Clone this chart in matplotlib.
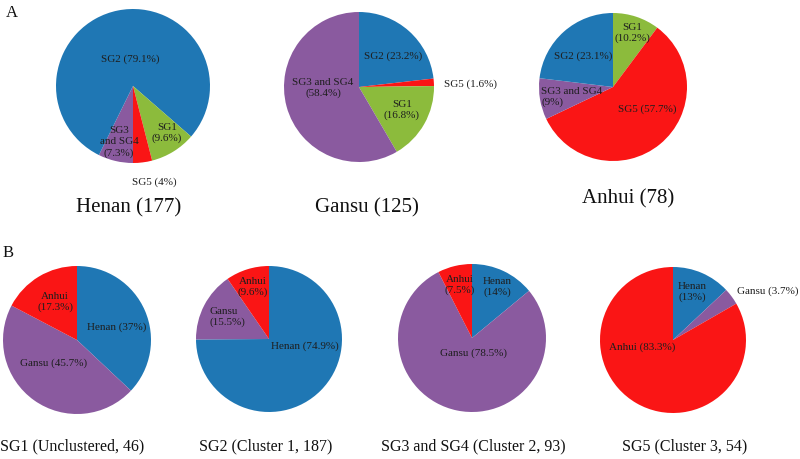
import matplotlib
matplotlib.use("Agg")
import matplotlib.pyplot as plt

plt.rcParams['font.family'] = ['Liberation Serif', 'DejaVu Serif']

# ---------------- data ----------------
group_colors = {'SG1': '#8cbb3c', 'SG2': '#1f77b4', 'SG3 and SG4': '#8a5a9f', 'SG5': '#fa1515'}
prov_colors = {'Henan': '#1f77b4', 'Gansu': '#8a5a9f', 'Anhui': '#fa1515'}

# Panel A (share of subgroups within each province), in drawing order
henan_groups = ['SG3 and SG4', 'SG2', 'SG1', 'SG5']
henan_values = [7.3, 79.1, 9.6, 4.0]
gansu_groups = ['SG2', 'SG5', 'SG1', 'SG3 and SG4']
gansu_values = [23.2, 1.6, 16.8, 58.4]
anhui_groups = ['SG1', 'SG5', 'SG3 and SG4', 'SG2']
anhui_values = [10.2, 57.7, 9.0, 23.1]
panel_a_titles = ['Henan (177)', 'Gansu (125)', 'Anhui (78)']

# Panel B (share of provinces within each subgroup)
provinces = ['Henan', 'Gansu', 'Anhui']
sg1_values = [37.0, 45.7, 17.3]
sg2_values = [74.9, 15.5, 9.6]
sg34_values = [14.0, 78.5, 7.5]
sg5_values = [13.0, 3.7, 83.3]
panel_b_titles = ['SG1 (Unclustered, 46)', 'SG2 (Cluster 1, 187)',
                  'SG3 and SG4 (Cluster 2, 93)', 'SG5 (Cluster 3, 54)']

# ---------------- figure ----------------
W, H = 800, 459
fig = plt.figure(figsize=(W / 100, H / 100), dpi=100)
ax = fig.add_axes([0, 0, 1, 1])

def Y(y):
    return H - y

def draw_pie(values, colors, cx, cy, r, start, ccw=False):
    ax.pie(values, colors=colors, startangle=start, counterclock=ccw,
           center=(cx, Y(cy)), radius=r, frame=True,
           wedgeprops=dict(linewidth=0))

tc = '#1e1e1e'
def lab(x, y, s, size=8, ha='center'):
    ax.text(x, Y(y), s, fontsize=size, ha=ha, va='center', color=tc,
            linespacing=1.25)

# Panel A
draw_pie(henan_values, [group_colors[g] for g in henan_groups], 133, 86, 77, 270)
draw_pie(gansu_values, [group_colors[g] for g in gansu_groups], 359, 87, 75, 90)
draw_pie(anhui_values, [group_colors[g] for g in anhui_groups], 613, 87, 74, 90)

lab(130, 59, 'SG2 (79.1%)')
lab(119, 142, 'SG3\nand SG4\n(7.3%)')
lab(167, 133, 'SG1\n(9.6%)')
lab(154, 182, 'SG5 (4%)')

lab(393, 56, 'SG2 (23.2%)')
lab(444, 84, 'SG5 (1.6%)', ha='left')
lab(323, 88, 'SG3 and SG4\n(58.4%)')
lab(402, 110, 'SG1\n(16.8%)')

lab(632, 33, 'SG1\n(10.2%)')
lab(583, 56, 'SG2 (23.1%)')
lab(541, 97, 'SG3 and SG4\n(9%)', ha='left')
lab(647, 109, 'SG5 (57.7%)')

for x, y, t in zip([129, 367, 628], [208, 208, 199], panel_a_titles):
    ax.text(x, Y(y), t, fontsize=15, ha='center', va='center', color='#111111')

# Panel B
pc = [prov_colors[p] for p in provinces]
draw_pie(sg1_values, pc, 77, 340, 74, 90)
draw_pie(sg2_values, pc, 269, 339, 73, 90)
draw_pie(sg34_values, pc, 472, 338, 74, 90)
draw_pie(sg5_values, pc, 673, 340, 73, 90)

lab(55, 302, 'Anhui\n(17.3%)')
lab(117, 327, 'Henan (37%)')
lab(54, 363, 'Gansu (45.7%)')

lab(253, 287, 'Anhui\n(9.6%)')
lab(210, 317, 'Gansu\n(15.5%)', ha='left')
lab(305, 346, 'Henan (74.9%)')

lab(460, 285, 'Anhui\n(7.5%)')
lab(497, 287, 'Henan\n(14%)')
lab(473, 353, 'Gansu (78.5%)')

lab(692, 292, 'Henan\n(13%)')
lab(768, 291, 'Gansu (3.7%)')
lab(642, 347, 'Anhui (83.3%)')

for x, t in zip([72, 266, 473, 685], panel_b_titles):
    ax.text(x, Y(446), t, fontsize=11.5, ha='center', va='center', color='#111111')

ax.text(12, Y(13), 'A', fontsize=12, ha='center', va='center', color='#111111')
ax.text(8, Y(253), 'B', fontsize=12, ha='center', va='center', color='#111111')

ax.set_xlim(0, W)
ax.set_ylim(0, H)
ax.set_aspect('equal')
ax.axis('off')

fig.savefig('out.png', dpi=100, facecolor='white')
